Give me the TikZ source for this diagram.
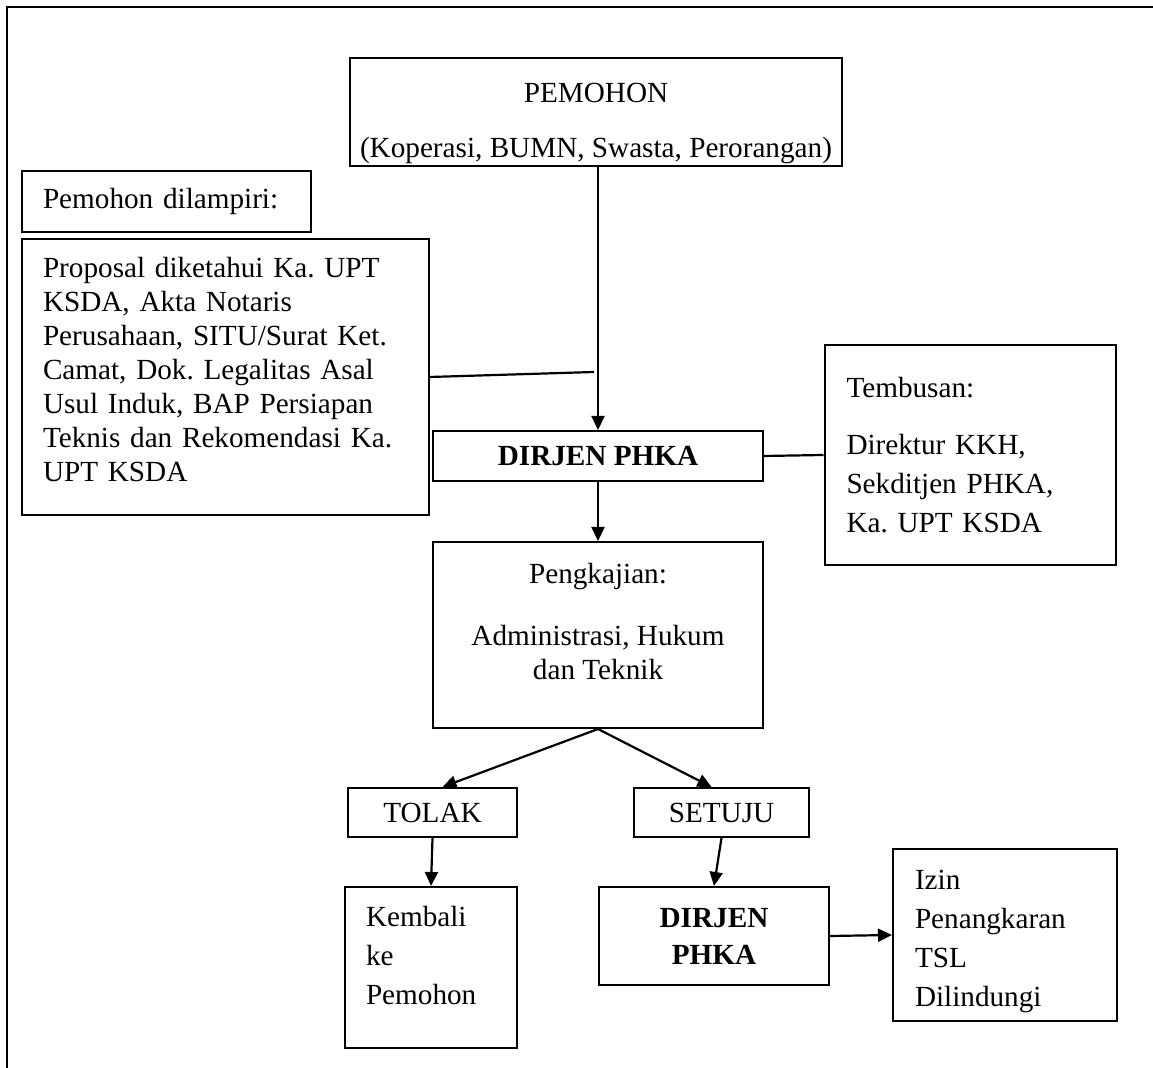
\documentclass[tikz,border=0pt]{standalone}
\usepackage{fontspec}
\setmainfont{Liberation Serif}
\usetikzlibrary{arrows.meta}
\frenchspacing

\begin{document}
\begin{tikzpicture}[x=0.5pt,y=-0.5pt,>={Triangle[length=7pt,width=6.5pt]},line join=miter,
  box/.style={draw,line width=1pt,inner sep=0pt,font=\fontsize{14.6}{17}\selectfont},
  leftbox/.style={box,align=left,inner xsep=10.5pt},
  conn/.style={line width=1.1pt}]
\useasboundingbox (0,0) rectangle (1153,1068);
% frame of the page
\draw[line width=1pt] (7,1068) -- (7,7) -- (1153,7);
\node[box,align=center,minimum width=246pt,minimum height=54pt] (pemohon) at (596,112)
  {\rule{0pt}{21pt}PEMOHON\\[10.5pt](Koperasi, BUMN, Swasta, Perorangan)};
\node[leftbox,text width=123.5pt,minimum width=144.5pt,minimum height=30.5pt] (lampiran) at (166.5,201.5)
  {Pemohon dilampiri:};
\node[leftbox,text width=182.5pt,minimum width=203.5pt,minimum height=138pt,text depth=110pt] (syarat) at (225.5,377)
  {Proposal diketahui Ka. UPT\\KSDA, Akta Notaris\\Perusahaan, SITU/Surat Ket.\\Camat, Dok. Legalitas Asal\\Usul Induk, BAP Persiapan\\Teknis dan Rekomendasi Ka.\\UPT KSDA};
\node[box,minimum width=165pt,minimum height=25pt,font=\fontsize{14.6}{17}\selectfont\bfseries] (dirjen) at (598,456)
  {DIRJEN PHKA};
\node[leftbox,inner xsep=11pt,text width=123.5pt,minimum width=145.5pt,minimum height=110pt,
  font=\fontsize{14.6}{19.5}\selectfont] (tembusan) at (970,455)
  {Tembusan:\\[9pt]Direktur KKH,\\Sekditjen PHKA,\\Ka. UPT KSDA};
\node[box,align=center,minimum width=165pt,minimum height=93pt,text depth=14pt] (pengkajian) at (598,635)
  {Pengkajian:\\[14pt]Administrasi, Hukum\\dan Teknik};
\node[box,minimum width=84.5pt,minimum height=24.5pt] (tolak) at (432.5,812.5) {TOLAK};
\node[box,minimum width=87.5pt,minimum height=24.5pt] (setuju) at (721.5,812.5) {SETUJU};
\node[leftbox,text width=65pt,minimum width=86pt,minimum height=80.5pt,text depth=51pt,
  font=\fontsize{14.6}{19.5}\selectfont] (kembali) at (431,967.5)
  {Kembali\\ke\\Pemohon};
\node[box,align=center,minimum width=115pt,minimum height=49pt,
  font=\fontsize{14.6}{18.5}\selectfont\bfseries] (dirjen2) at (714,936)
  {DIRJEN\\PHKA};
\node[leftbox,inner xsep=11pt,text width=90pt,minimum width=112pt,minimum height=86pt,text depth=55pt,
  font=\fontsize{14.6}{19.5}\selectfont] (izin) at (1005,935)
  {Izin\\Penangkaran\\TSL\\Dilindungi};
\coordinate (join) at (594,372);
\draw[->,conn] (dirjen.north |- pemohon.south) -- (dirjen.north);
\draw[conn] (syarat.east) -- (join);
\draw[conn] (dirjen.east) -- (tembusan.west);
\draw[->,conn] (dirjen.south) -- (pengkajian.north);
\draw[->,conn] (pengkajian.south) -- ([xshift=5pt]tolak.north);
\draw[->,conn] (pengkajian.south) -- ([xshift=-5pt]setuju.north);
\draw[->,conn] (tolak.south) -- (kembali.north);
\draw[->,conn] (setuju.south) -- (dirjen2.north);
\draw[->,conn] (dirjen2.east) -- (izin.west);
\end{tikzpicture}
\end{document}
